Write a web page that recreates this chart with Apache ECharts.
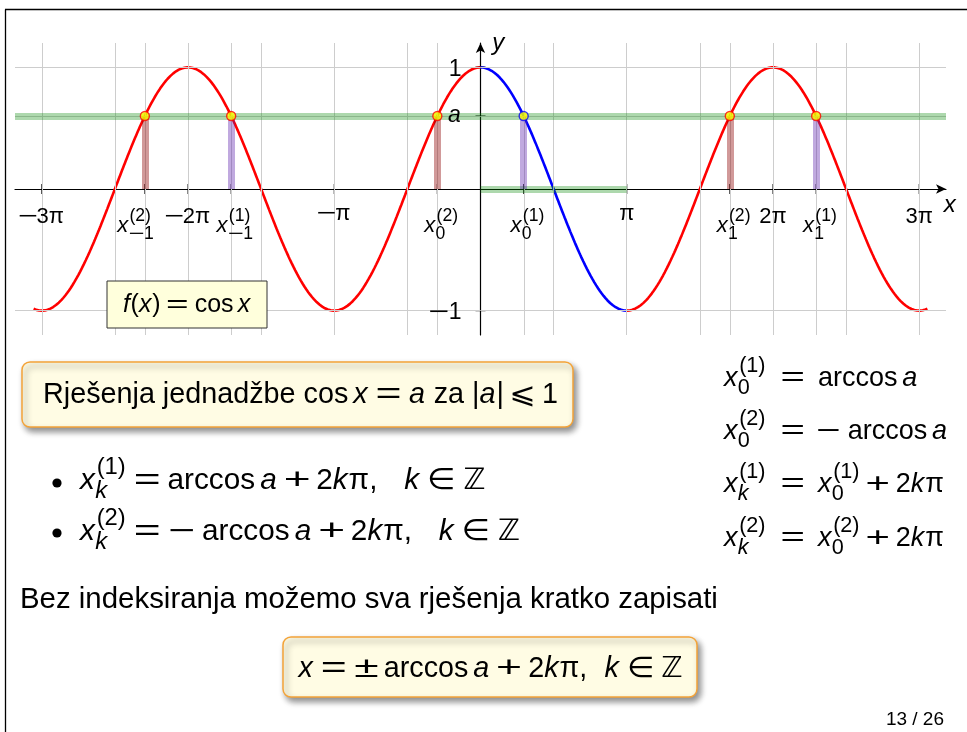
<!DOCTYPE html>
<html>
<head>
<meta charset="utf-8">
<script src="https://cdn.jsdelivr.net/npm/echarts@6/dist/echarts.min.js"></script>
<style>
  html, body { margin: 0; padding: 0; background: #fff; }
  #main { width: 967px; height: 732px; }
</style>
</head>
<body>
<div id="main"></div>
<script>
// ---------- values ----------
const A = 0.6;                                   // level a in cos x = a
const X_RANGE = [-10, 10];
const Y_RANGE = [-1.2, 1.2];
const CURVE_DOMAIN = [-9.6, 9.6];                // f(x) = cos x is drawn on this interval
const SOLUTION_K = [-1, 0, 1];                   // periods k marked on the x axis
const SUB_TEXT = [[{ op: '−', g: 0 }, '1'], ['0'], ['1']];   // subscripts for those k
const PI_MULTIPLES = [-3, -2, -1, 1, 2, 3];      // labelled ticks, in units of π
const PI_LABELS = [
  [{ op: '−', g: 0 }, '3π'], [{ op: '−', g: 0 }, '2π'], [{ op: '−', g: 0 }, 'π'],
  ['π'], ['2π'], ['3π']
];
const HALF_PI_GRID = [-6, -5, -4, -3, -2, -1, 1, 2, 3, 4, 5, 6];   // vertical grid, units of π/2
const Y_TICKS = [1, A, -1];
const Y_LABELS = [['1'], [{ i: 'a' }], [{ op: '−', g: 0 }, '1']];

// ---------- derived ----------
const PI = Math.PI;
const ARC = Math.acos(A);                              // arccos a
const sol1 = SOLUTION_K.map(k => ARC + 2 * k * PI);    // x_k^(1)
const sol2 = SOLUTION_K.map(k => -ARC + 2 * k * PI);   // x_k^(2)

function cosSamples(from, to) {
  const out = [];
  const n = Math.ceil((to - from) / 0.02);
  for (let j = 0; j <= n; j++) {
    const x = from + (to - from) * j / n;
    out.push([x, Math.cos(x)]);
  }
  return out;
}

const RED = '#ff0000', BLUE = '#0000ff';

function lines(data, lineStyle) {
  return {
    silent: true, symbol: ['none', 'none'], label: { show: false },
    emphasis: { disabled: true }, animation: false,
    lineStyle: Object.assign({ type: 'solid' }, lineStyle), data
  };
}

const gridX = HALF_PI_GRID.map(h => h * PI / 2).concat(sol1, sol2);
const xTicks = PI_MULTIPLES.map(m => m * PI).concat(sol1, sol2);

const chart = echarts.init(document.getElementById('main'), null, { renderer: 'canvas' });

chart.setOption({
  animation: false,
  grid: { left: 15, top: 43, width: 931, height: 292, containLabel: false },
  xAxis: {
    type: 'value', min: X_RANGE[0], max: X_RANGE[1],
    axisLine: { onZero: true, symbol: ['none', 'arrow'], symbolSize: [7, 10], lineStyle: { color: '#000', width: 1.2 } },
    axisTick: { show: false }, axisLabel: { show: false }, splitLine: { show: false }
  },
  yAxis: {
    type: 'value', min: Y_RANGE[0], max: Y_RANGE[1],
    axisLine: { onZero: true, symbol: ['none', 'arrow'], symbolSize: [7, 10], lineStyle: { color: '#000', width: 1.2 } },
    axisTick: { show: false }, axisLabel: { show: false }, splitLine: { show: false }
  },
  series: [
    { type: 'line', name: 'grid', data: [], z: 1,
      markLine: lines(gridX.map(v => ({ xAxis: v })).concat(Y_TICKS.map(v => ({ yAxis: v }))),
        { color: '#cdcdcd', width: 1 }) },
    { type: 'line', name: 'bands', data: [], z: 2,
      markLine: lines([
        [{ coord: [X_RANGE[0], A] }, { coord: [X_RANGE[1], A] }],
        [{ coord: [0, 0] }, { coord: [PI, 0] }]
      ], { color: 'rgba(0,135,0,0.32)', width: 7 }) },
    { type: 'line', name: 'x2 bars', data: [], z: 2,
      markLine: lines(sol2.map(x => [{ coord: [x, 0] }, { coord: [x, A] }]),
        { color: 'rgba(140,0,0,0.4)', width: 7 }) },
    { type: 'line', name: 'x1 bars', data: [], z: 2,
      markLine: lines(sol1.map(x => [{ coord: [x, 0] }, { coord: [x, A] }]),
        { color: 'rgba(90,30,170,0.38)', width: 7 }) },
    { type: 'line', name: 'cos left', data: cosSamples(CURVE_DOMAIN[0], 0), z: 3,
      showSymbol: false, lineStyle: { color: RED, width: 2.6 }, silent: true },
    { type: 'line', name: 'cos main', data: cosSamples(0, PI), z: 3,
      showSymbol: false, lineStyle: { color: BLUE, width: 2.6 }, silent: true },
    { type: 'line', name: 'cos right', data: cosSamples(PI, CURVE_DOMAIN[1]), z: 3,
      showSymbol: false, lineStyle: { color: RED, width: 2.6 }, silent: true },
    { type: 'scatter', name: 'x ticks', z: 4, silent: true,
      symbol: 'rect', symbolSize: [1.2, 10], itemStyle: { color: '#000' },
      data: xTicks.map(x => [x, 0]) },
    { type: 'scatter', name: 'y ticks', z: 4, silent: true,
      symbol: 'rect', symbolSize: [10, 1.2], itemStyle: { color: '#000' },
      data: Y_TICKS.map(y => [0, y]) },
    { type: 'scatter', name: 'solutions', z: 5, silent: true,
      symbol: 'circle', symbolSize: 9,
      data: sol2.map(x => ({ value: [x, A], itemStyle: { color: '#ffff00', borderColor: RED, borderWidth: 1.4 } }))
        .concat(sol1.map((x, j) => ({ value: [x, A],
          itemStyle: { color: '#ffff00', borderColor: SOLUTION_K[j] === 0 ? BLUE : RED, borderWidth: 1.4 } }))) }
  ]
});

// ---------- math-style text ----------
const FAMILY = '"Liberation Sans", "DejaVu Sans", sans-serif';
const MID = 0.28;        // canvas 'middle' sits this far (em) above the alphabetic baseline
const OP_SCALE = 1.55;   // operators (=, +, −, ±) are stretched sideways to a wider math shape
const mctx = document.createElement('canvas').getContext('2d');
function fontOf(size, it) { return (it ? 'italic ' : '') + size.toFixed(2) + 'px ' + FAMILY; }
function measure(str, size, it) {
  mctx.font = fontOf(size, it);
  const m = mctx.measureText(str);
  return { w: m.width, asc: m.actualBoundingBoxAscent, desc: m.actualBoundingBoxDescent,
    lb: -m.actualBoundingBoxLeft, rb: m.actualBoundingBoxRight };
}
// tokens: 'upright' | {i:'italic'} | {op:'=', g:gapEm, s:stretch} | {sp:em} | {sup:[...], sub:[...]}
function layoutMath(tokens, size, depth) {
  const pieces = [];
  let x = 0, asc = 0, desc = 0;
  tokens.forEach(tok => {
    if (typeof tok === 'string' || tok.i !== undefined) {
      const it = typeof tok !== 'string';
      const str = it ? tok.i : tok;
      const m = measure(str, size, it);
      pieces.push({ str, size, it, dx: x, dy: 0, sx: 1 });
      asc = Math.max(asc, m.asc); desc = Math.max(desc, m.desc);
      x += m.w + (it && !depth ? size * 0.03 : 0);
    } else if (tok.op !== undefined) {
      const m = measure(tok.op, size, false);
      const gap = (tok.g === undefined ? 0.24 : tok.g) * size;
      const sc = tok.s || OP_SCALE;
      x += gap;
      pieces.push({ str: tok.op, size, it: false, dx: x - m.lb * sc, dy: 0, sx: sc });
      asc = Math.max(asc, m.asc);
      x += (m.rb - m.lb) * sc + gap;
    } else if (tok.sp !== undefined) {
      x += tok.sp * size;
    } else {
      const ss = size * 0.8;
      let w = 0;
      if (tok.sup) {
        const L = layoutMath(tok.sup, ss, 1), rise = size * 0.5;
        L.pieces.forEach(p => pieces.push(Object.assign(p, { dx: p.dx + x + size * 0.03, dy: p.dy - rise })));
        w = Math.max(w, L.width + size * 0.03); asc = Math.max(asc, L.asc + rise);
      }
      if (tok.sub) {
        const L = layoutMath(tok.sub, ss, 1), drop = size * 0.3;
        L.pieces.forEach(p => pieces.push(Object.assign(p, { dx: p.dx + x - size * 0.02, dy: p.dy + drop })));
        w = Math.max(w, L.width); desc = Math.max(desc, L.desc + drop);
      }
      x += w + size * 0.02;
    }
  });
  return { pieces, width: x, asc, desc };
}
// font size that makes a line of tokens span the given width
function fitSize(tokens, width) {
  let s = 28;
  for (let n = 0; n < 4; n++) s *= width / layoutMath(tokens, s, 0).width;
  return s;
}
function mathText(tokens, size, px, py, align, v) {
  const L = layoutMath(tokens, size, 0);
  let x0 = px;
  if (align === 'center') x0 = px - L.width / 2;
  else if (align === 'right') x0 = px - L.width;
  let base = py;
  if (v === 'top') base = py + L.asc;
  else if (v === 'mid') base = py + (L.asc - L.desc) / 2;
  return L.pieces.map(p => ({
    type: 'text', silent: true, z: 100,
    x: x0 + p.dx, y: base + p.dy - MID * p.size, scaleX: p.sx,
    style: { text: p.str, font: fontOf(p.size, p.it), fill: '#000', align: 'left', verticalAlign: 'middle' }
  }));
}
const REL = { op: '=', g: 0.3 };
const PLUS = { op: '+', g: 0.26 };
const IN = { op: '∈', g: 0.32, s: 1.1 };

// ---------- axis labels ----------
const px = (x, y) => chart.convertToPixel({ gridIndex: 0 }, [x, y]);
const origin = px(0, 0);
const g = [];

PI_MULTIPLES.forEach((m, j) => {
  const p = px(m * PI, 0);
  g.push(...mathText(PI_LABELS[j], 22, p[0], origin[1] + 19, 'center', 'top'));
});
SOLUTION_K.forEach((k, j) => {
  const p2 = px(sol2[j], 0), p1 = px(sol1[j], 0);
  const shift2 = k === -1 ? -9 : 4;
  g.push(...mathText([{ i: 'x' }, { sup: ['(2)'], sub: SUB_TEXT[j] }], 22, p2[0] + shift2, origin[1] + 19, 'center', 'top'));
  g.push(...mathText([{ i: 'x' }, { sup: ['(1)'], sub: SUB_TEXT[j] }], 22, p1[0] + 4, origin[1] + 19, 'center', 'top'));
});
Y_TICKS.forEach((y, j) => {
  const p = px(0, y);
  g.push(...mathText(Y_LABELS[j], 23, origin[0] - 19, p[1], 'right', 'mid'));
});
const xEnd = px(X_RANGE[1], 0), yEnd = px(0, Y_RANGE[1]);
g.push(...mathText([{ i: 'x' }], 24, xEnd[0] + 4, xEnd[1] + 17, 'center', 'mid'));
g.push(...mathText([{ i: 'y' }], 24, yEnd[0] + 18, yEnd[1] - 6, 'center', 'top'));

// f(x) = cos x box
g.push({ type: 'rect', z: 95, silent: true, shape: { x: 107, y: 281, width: 160, height: 47 },
  style: { fill: '#ffffdc', stroke: '#333', lineWidth: 1 } });
g.push(...mathText([{ i: 'f' }, '(', { i: 'x' }, ')', { op: '=', g: 0.28 }, 'cos', { sp: 0.17 }, { i: 'x' }], 25, 187, 312, 'center', 'base'));

// ---------- slide text ----------
g.push({ type: 'line', z: 100, silent: true, shape: { x1: 5, y1: 9.5, x2: 967, y2: 9.5 }, style: { stroke: '#000', lineWidth: 1.3 } });
g.push({ type: 'line', z: 100, silent: true, shape: { x1: 5.5, y1: 9.5, x2: 5.5, y2: 732 }, style: { stroke: '#000', lineWidth: 1.3 } });

const boxStyle = { fill: '#fffce4', stroke: '#f4a338', lineWidth: 1.5,
  shadowBlur: 6, shadowOffsetX: 3, shadowOffsetY: 4, shadowColor: 'rgba(0,0,0,0.45)' };

// boxed heading
const heading = ['Rješenja jednadžbe cos', { sp: 0.17 }, { i: 'x' }, REL, { i: 'a' }, ' za ', '|', { i: 'a' }, '|',
  { op: '⩽', g: 0.3, s: 1.1 }, '1'];
g.push({ type: 'rect', z: 90, silent: true, shape: { x: 22, y: 362, width: 551, height: 65, r: 8 }, style: boxStyle });
g.push(...mathText(heading, fitSize(heading, 515), 43, 403, 'left', 'base'));

// itemized solutions
const bulletRow = (sup, neg) => [{ i: 'x' }, { sup: [sup], sub: [{ i: 'k' }] }, REL]
  .concat(neg ? [{ sp: 0.08 }, { op: '−', g: 0 }, { sp: 0.3 }] : [])
  .concat(['arccos', { sp: 0.17 }, { i: 'a' }, PLUS, '2', { i: 'k' }, 'π', ',', { sp: 0.9 }, { i: 'k' }, IN, 'ℤ']);
const bulletSize = fitSize(bulletRow('(1)', false), 408);
g.push({ type: 'circle', z: 100, silent: true, shape: { cx: 57, cy: 483, r: 4.6 }, style: { fill: '#000' } });
g.push(...mathText(bulletRow('(1)', false), bulletSize, 80, 489, 'left', 'base'));
g.push({ type: 'circle', z: 100, silent: true, shape: { cx: 57, cy: 533, r: 4.6 }, style: { fill: '#000' } });
g.push(...mathText(bulletRow('(2)', true), bulletSize, 80, 540, 'left', 'base'));

// aligned equations on the right
const rows = [
  { lhs: [{ i: 'x' }, { sup: ['(1)'], sub: ['0'] }], rhs: ['arccos', { sp: 0.17 }, { i: 'a' }], y: 386 },
  { lhs: [{ i: 'x' }, { sup: ['(2)'], sub: ['0'] }], rhs: [{ op: '−', g: 0 }, { sp: 0.3 }, 'arccos', { sp: 0.17 }, { i: 'a' }], y: 439 },
  { lhs: [{ i: 'x' }, { sup: ['(1)'], sub: [{ i: 'k' }] }], rhs: [{ i: 'x' }, { sup: ['(1)'], sub: ['0'] }, PLUS, '2', { i: 'k' }, 'π'], y: 492 },
  { lhs: [{ i: 'x' }, { sup: ['(2)'], sub: [{ i: 'k' }] }], rhs: [{ i: 'x' }, { sup: ['(2)'], sub: ['0'] }, PLUS, '2', { i: 'k' }, 'π'], y: 546 }
];
const colSize = fitSize(rows[0].rhs, 100);
rows.forEach(r => {
  g.push(...mathText(r.lhs, colSize, 724, r.y, 'left', 'base'));
  g.push(...mathText([{ op: '=', g: 0 }], colSize, 782, r.y, 'left', 'base'));
  g.push(...mathText(r.rhs, colSize, 818, r.y, 'left', 'base'));
});

const sentence = ['Bez indeksiranja možemo sva rješenja kratko zapisati'];
g.push(...mathText(sentence, fitSize(sentence, 698), 20, 608, 'left', 'base'));

// boxed summary
const summary = [{ i: 'x' }, REL, { op: '±', g: 0 }, { sp: 0.22 }, 'arccos', { sp: 0.17 }, { i: 'a' }, PLUS, '2', { i: 'k' }, 'π', ',',
  { sp: 0.6 }, { i: 'k' }, IN, 'ℤ'];
g.push({ type: 'rect', z: 90, silent: true, shape: { x: 283, y: 637, width: 414, height: 60, r: 8 }, style: boxStyle });
g.push(...mathText(summary, fitSize(summary, 384), 490.5, 677, 'center', 'base'));

g.push(...mathText(['13 / 26'], 19, 944, 725, 'right', 'base'));

chart.setOption({ graphic: { elements: g } });
</script>
</body>
</html>
